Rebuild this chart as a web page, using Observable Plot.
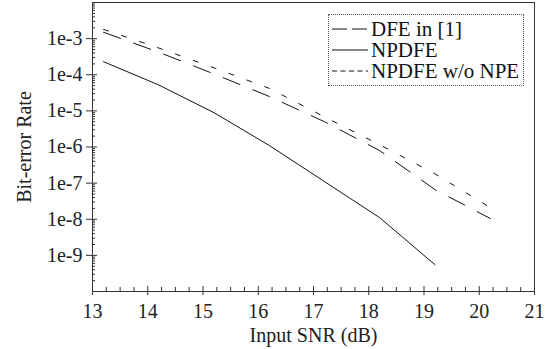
<!DOCTYPE html>
<html>
<head>
<meta charset="utf-8">
<script src="https://cdn.jsdelivr.net/npm/d3@7"></script>
<script src="https://cdn.jsdelivr.net/npm/@observablehq/plot@0.6"></script>
<style>
  html, body { margin: 0; padding: 0; background: white; }
  #wrap { position: relative; width: 552px; height: 349px; }
  #legend {
    position: absolute; left: 328px; top: 14px; width: 194px; height: 70px;
    border: 1px dotted #555; box-sizing: content-box;
    font-family: "Liberation Serif", "Times New Roman", serif; font-size: 21px; color: #111;
    background: white;
  }
  .row { position: absolute; left: 3px; height: 20px; line-height: 20px; display: flex; align-items: center; white-space: nowrap; }
  .row span { line-height: 18px; display: block; }
  .row svg { display: block; margin-right: 3px; }
</style>
</head>
<body>
<div id="wrap">
  <div id="chart"></div>
  <div id="legend"></div>
</div>
<script>
// ---- data ----
const snrNPDFE = [13.2, 14.2, 15.2, 16.2, 17.2, 18.2, 19.2];
const berNPDFE = [2.3e-4, 5.2e-5, 8.9e-6, 1.1e-6, 1.1e-7, 1.1e-8, 5.5e-10];

const snrDFE = [13.2, 14.2, 15.2, 16.2, 17.2, 18.2, 19.2, 20.2];
const berDFE = [1.5e-3, 4.2e-4, 1.05e-4, 2.5e-5, 5.0e-6, 7.9e-7, 6.6e-8, 1.05e-8];

const snrNoNPE = [13.2, 14.2, 15.2, 16.2, 17.2, 18.2, 19.2, 20.2];
const berNoNPE = [1.8e-3, 5.5e-4, 1.55e-4, 4.2e-5, 6.8e-6, 1.15e-6, 1.8e-7, 2.1e-8];

const seriesNames = ["DFE in [1]", "NPDFE", "NPDFE w/o NPE"];
const xTicks = [13, 14, 15, 16, 17, 18, 19, 20, 21];
const yTicks = [1e-9, 1e-8, 1e-7, 1e-6, 1e-5, 1e-4, 1e-3];
const yTickLabels = ["1e-9", "1e-8", "1e-7", "1e-6", "1e-5", "1e-4", "1e-3"];

// ---- derived tables ----
const dfe = snrDFE.map((x, i) => ({x, y: berDFE[i]}));
const npdfe = snrNPDFE.map((x, i) => ({x, y: berNPDFE[i]}));
const nonpe = snrNoNPE.map((x, i) => ({x, y: berNoNPE[i]}));
const yLabelOf = d => {
  const j = yTicks.findIndex(v => Math.abs(Math.log10(v) - Math.log10(d)) < 1e-6);
  return j >= 0 ? yTickLabels[j] : "";
};

const xMinor = d3.range(13, 21.001, 0.25).filter(v => Math.abs(v - Math.round(v)) > 1e-6);
const yMinor = [];
for (let e = -10; e <= -3; e++) for (let k = 2; k <= 9; k++) yMinor.push(k * Math.pow(10, e));

const W = 552, H = 349, ML = 92, MR = 18, MT = 2, MB = 58;
const FW = W - ML - MR, FH = H - MT - MB;
const font = "'Liberation Serif', 'Times New Roman', serif";

const chart = Plot.plot({
  width: W, height: H,
  marginLeft: ML, marginRight: MR, marginTop: MT, marginBottom: MB,
  style: {fontFamily: font, fontSize: "20px", color: "#222", background: "white"},
  x: {domain: [13, 21]},
  y: {type: "log", domain: [1e-10, 1e-2]},
  marks: [
    Plot.ruleX(xMinor, {x: d => d, insetTop: FH - 4, stroke: "#333"}),
    Plot.ruleX(xTicks, {x: d => d, insetTop: FH - 5, stroke: "#333"}),
    Plot.ruleY(yMinor, {y: d => d, insetRight: FW - 3, stroke: "#333"}),
    Plot.ruleY(yTicks, {y: d => d, insetRight: FW - 5, stroke: "#333"}),
    Plot.frame({stroke: "#333", strokeWidth: 1}),
    Plot.axisX({ticks: xTicks, tickSize: 4, tickPadding: 8, tickFormat: d => String(d), fontSize: 20,
      label: "Input SNR (dB)", labelAnchor: "center", labelOffset: 50, labelArrow: "none", stroke: "#333"}),
    Plot.axisY({ticks: yTicks, tickSize: 6, tickPadding: 4, tickFormat: yLabelOf, fontSize: 20,
      label: "Bit-error Rate", labelAnchor: "center", labelOffset: 76, labelArrow: "none", stroke: "#333"}),
    Plot.line(dfe, {x: "x", y: "y", stroke: "#111", strokeWidth: 1, strokeDasharray: "18,14"}),
    Plot.line(npdfe, {x: "x", y: "y", stroke: "#111", strokeWidth: 1}),
    Plot.line(nonpe, {x: "x", y: "y", stroke: "#111", strokeWidth: 1, strokeDasharray: "5,14"})
  ]
});
document.getElementById("chart").appendChild(chart);

// ---- legend ----
const legend = document.getElementById("legend");
const dashes = ["15,5", null, "5,3.5"];
seriesNames.forEach((name, i) => {
  const row = document.createElement("div");
  row.className = "row";
  row.style.top = (4 + i * 21) + "px";
  const ns = "http://www.w3.org/2000/svg";
  const s = document.createElementNS(ns, "svg");
  s.setAttribute("width", 36); s.setAttribute("height", 10);
  const l = document.createElementNS(ns, "line");
  l.setAttribute("x1", 0); l.setAttribute("x2", 36);
  l.setAttribute("y1", 5); l.setAttribute("y2", 5);
  l.setAttribute("stroke", "#111"); l.setAttribute("stroke-width", 1);
  if (dashes[i]) l.setAttribute("stroke-dasharray", dashes[i]);
  s.appendChild(l);
  row.appendChild(s);
  const t = document.createElement("span");
  t.textContent = name;
  row.appendChild(t);
  legend.appendChild(row);
});
</script>
</body>
</html>
